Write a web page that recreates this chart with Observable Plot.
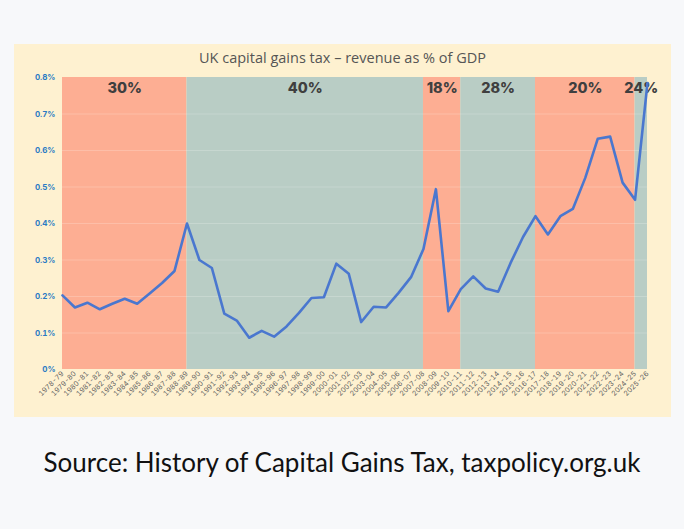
<!DOCTYPE html>
<html>
<head>
<meta charset="utf-8">
<script src="https://cdn.jsdelivr.net/npm/d3@7"></script>
<script src="https://cdn.jsdelivr.net/npm/@observablehq/plot@0.6"></script>
<style>
  html, body { margin: 0; padding: 0; }
  body { width: 684px; height: 529px; background: #f7f8fa; position: relative; overflow: hidden; font-family: Inter, "Noto Sans", sans-serif; }
  #card { position: absolute; left: 14px; top: 44px; width: 657px; height: 373px; background: #fef1d0; }
  #title { position: absolute; left: 0; top: 0; width: 657px; height: 27px; line-height: 27px; text-align: center; font-size: 14.5px; color: #555; font-family: "Open Sans", sans-serif; }
  #chart { position: absolute; left: 0; top: 26px; }
  #caption { position: absolute; left: 0; top: 446px; width: 684px; text-align: center; font-size: 26px; color: #111; font-family: Lato, sans-serif; }
</style>
</head>
<body>
<div id="card">
  <div id="title">UK capital gains tax – revenue as % of GDP</div>
  <div id="chart"></div>
</div>
<div id="caption">Source: History of Capital Gains Tax, taxpolicy.org.uk</div>
<script>
const years = ["1978-79","1979-80","1980-81","1981-82","1982-83","1983-84","1984-85","1985-86","1986-87","1987-88",
  "1988-89","1989-90","1990-91","1991-92","1992-93","1993-94","1994-95","1995-96","1996-97","1997-98",
  "1998-99","1999-00","2000-01","2001-02","2002-03","2003-04","2004-05","2005-06","2006-07","2007-08",
  "2008-09","2009-10","2010-11","2011-12","2012-13","2013-14","2014-15","2015-16","2016-17","2017-18",
  "2018-19","2019-20","2020-21","2021-22","2022-23","2023-24","2024-25","2025-26"];
const revenue = [0.203,0.170,0.183,0.165,0.180,0.194,0.180,0.208,0.237,0.270,
  0.400,0.300,0.278,0.153,0.134,0.087,0.106,0.090,0.118,0.155,
  0.196,0.198,0.290,0.262,0.130,0.172,0.170,0.210,0.253,0.330,
  0.494,0.160,0.220,0.255,0.222,0.213,0.292,0.363,0.420,0.370,
  0.420,0.440,0.525,0.632,0.638,0.512,0.465,0.785];
const bandLabels = ["30%","40%","18%","28%","20%","24%"];
const bandStart = ["1978-79","1988-89","2007-08","2010-11","2016-17","2024-25"];
const bandEnd   = ["1988-89","2007-08","2010-11","2016-17","2024-25","2025-26"];
const bandColor = ["#fdae93","#b9cdc5","#fdae93","#b9cdc5","#fdae93","#b9cdc5"];
const yTicks = [0,0.1,0.2,0.3,0.4,0.5,0.6,0.7,0.8];

const idx = y => years.indexOf(y);
const series = years.map((y, i) => ({i, year: y, v: revenue[i]}));
const bands = bandLabels.map((l, k) => ({label: l, x1: idx(bandStart[k]), x2: idx(bandEnd[k]), color: bandColor[k]}));

const chart = Plot.plot({
  width: 657,
  height: 347,
  marginLeft: 48,
  marginRight: 24,
  marginTop: 7,
  marginBottom: 48,
  style: {background: "transparent", overflow: "visible"},
  x: {domain: [0, years.length - 1]},
  y: {domain: [0, 0.8]},
  marks: [
    Plot.rect(bands, {x1: "x1", x2: "x2", y1: 0, y2: 0.8, fill: "color"}),
    Plot.ruleY(yTicks.slice(1, -1), {stroke: "#ffffff", strokeOpacity: 0.2, strokeWidth: 1}),
    Plot.text(bands, {x: d => (d.x1 + d.x2) / 2, y: 0.77, text: "label", fontSize: 14.5, fontWeight: 800, fill: "#3f3f3f", fontFamily: "Inter, sans-serif"}),
    Plot.line(series, {x: "i", y: "v", stroke: "#4a77cf", strokeWidth: 2.6, strokeLinejoin: "round", strokeLinecap: "round"}),
    Plot.axisY({ticks: yTicks, tickSize: 0, tickPadding: 7, tickFormat: d => (d === 0 ? "0" : d.toFixed(1)) + "%", fill: "#2b7bc4", fontWeight: 700, fontSize: 8, fontFamily: "Inter, sans-serif", label: null}),
    Plot.axisX({ticks: d3.range(years.length), tickSize: 0, tickPadding: 3, tickRotate: -45, tickFormat: i => years[i], fill: "#5f5f5f", fontSize: 7, fontFamily: "Inter, sans-serif", label: null})
  ]
});
document.getElementById("chart").appendChild(chart);
</script>
</body>
</html>
